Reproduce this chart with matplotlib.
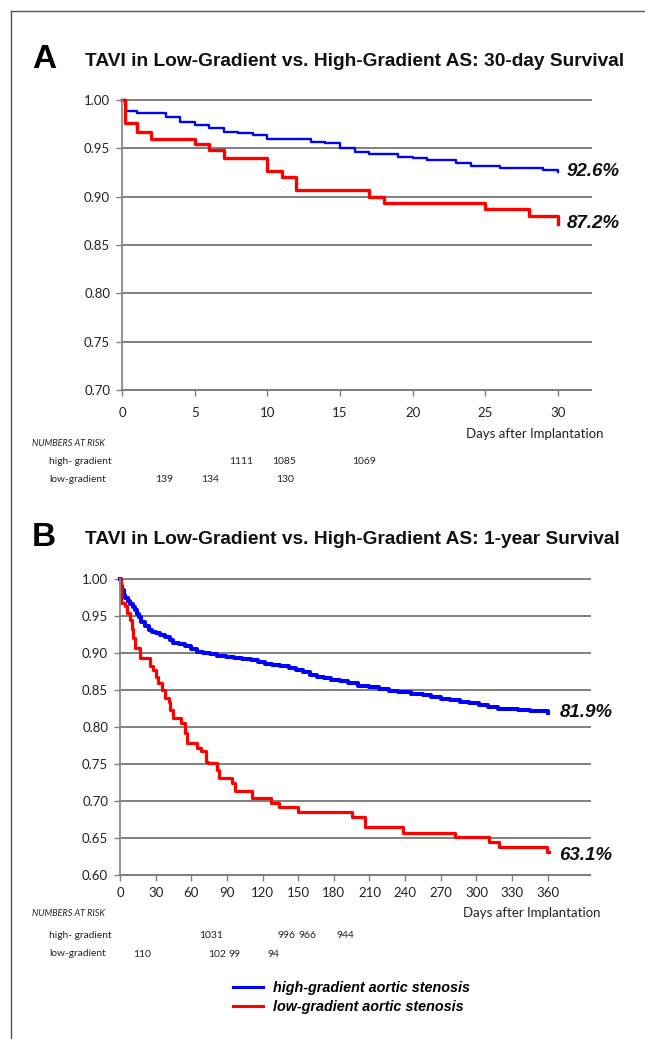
import matplotlib
matplotlib.use('Agg')
import matplotlib.pyplot as plt
from matplotlib.lines import Line2D
from matplotlib.ticker import FormatStrFormatter
import matplotlib.transforms as mtransforms

W, H = 645, 1039

# ---- panel A: 30-day survival (days, survival after step)
a_high_days = [0, 0.3, 1, 3, 4, 5, 6, 7, 8, 9, 10, 13, 14, 15, 16, 17, 19, 20, 21, 23, 24, 26, 29, 30]
a_high_surv = [1.0, 0.989, 0.987, 0.982, 0.977, 0.974, 0.971, 0.967, 0.966, 0.964, 0.960, 0.957,
               0.955, 0.950, 0.946, 0.944, 0.941, 0.940, 0.938, 0.935, 0.932, 0.930, 0.928, 0.926]
a_low_days = [0, 0.2, 1, 2, 5, 6, 7, 10, 11, 12, 17, 18, 25, 28, 30]
a_low_surv = [1.0, 0.976, 0.967, 0.960, 0.954, 0.948, 0.940, 0.927, 0.920, 0.907, 0.900, 0.893,
              0.887, 0.880, 0.872]
a_xticks = [0, 5, 10, 15, 20, 25, 30]
a_yticks = [0.70, 0.75, 0.80, 0.85, 0.90, 0.95, 1.00]
a_risk_high = [(8.2, '1111'), (11.15, '1085'), (16.65, '1069')]
a_risk_low = [(2.9, '139'), (6.05, '134'), (11.2, '130')]
a_end_labels = ['92.6%', '87.2%']

# ---- panel B: 1-year survival
b_high_days = [0, 0.5, 1.5, 3, 4.5, 6.5, 8.5, 11, 13, 14.5, 16, 18, 21, 24, 27, 30, 34, 38, 42, 45,
               50, 55, 60, 65, 70, 76, 82, 89, 96, 103, 110, 116, 122, 128, 135, 142, 148, 154, 160,
               166, 172, 178, 185, 192, 200, 210, 218, 226, 234, 245, 255, 262, 270, 278, 286, 294,
               302, 310, 318, 326, 335, 345, 353, 360]
b_high_surv = [1.000, 0.990, 0.985, 0.979, 0.974, 0.970, 0.966, 0.962, 0.958, 0.953, 0.948, 0.942,
               0.936, 0.931, 0.929, 0.927, 0.925, 0.922, 0.918, 0.914, 0.912, 0.909, 0.905, 0.902,
               0.900, 0.898, 0.896, 0.894, 0.893, 0.892, 0.890, 0.888, 0.885, 0.884, 0.882, 0.880,
               0.877, 0.874, 0.870, 0.868, 0.866, 0.864, 0.862, 0.859, 0.856, 0.854, 0.852, 0.849,
               0.847, 0.845, 0.843, 0.840, 0.838, 0.836, 0.834, 0.832, 0.830, 0.827, 0.825, 0.824,
               0.823, 0.822, 0.821, 0.819]
b_low_days = [0, 0.5, 1, 4, 6, 8.5, 10, 11, 13, 17, 25, 28, 30, 32, 35, 37.5, 41, 42, 45, 51,
              55, 56.5, 65, 68, 72, 74, 82, 83, 94, 97, 111, 127, 134, 150, 195, 206, 238, 282,
              311, 319, 359, 361]
b_low_surv = [1.0, 0.985, 0.967, 0.963, 0.954, 0.945, 0.933, 0.920, 0.907, 0.893, 0.882, 0.877,
              0.868, 0.859, 0.850, 0.839, 0.834, 0.823, 0.812, 0.805, 0.792, 0.778, 0.771, 0.767,
              0.753, 0.751, 0.742, 0.731, 0.724, 0.713, 0.704, 0.697, 0.692, 0.685, 0.678, 0.665,
              0.657, 0.651, 0.644, 0.638, 0.631, 0.631]
b_xticks = [0, 30, 60, 90, 120, 150, 180, 210, 240, 270, 300, 330, 360]
b_yticks = [0.60, 0.65, 0.70, 0.75, 0.80, 0.85, 0.90, 0.95, 1.00]
b_risk_high = [(76.6, '1031'), (140, '996'), (157.5, '966'), (190, '944')]
b_risk_low = [(18.5, '110'), (81.6, '102'), (96.6, '99'), (128.8, '94')]
b_end_labels = ['81.9%', '63.1%']

title_a = 'TAVI in Low-Gradient vs. High-Gradient AS: 30-day Survival'
title_b = 'TAVI in Low-Gradient vs. High-Gradient AS: 1-year Survival'
legend_labels = ['high-gradient aortic stenosis', 'low-gradient aortic stenosis']

ARIAL = 'Liberation Sans'
SMALL = 'Lato'
GRID = '#7f7f7f'
TXT = '#222222'


def px(x):
    return x / W


def py(y):
    return 1 - y / H


fig = plt.figure(figsize=(W / 100, H / 100), dpi=100)

# outer frame (left and top)
fig.add_artist(Line2D([px(10.5), px(10.5)], [py(10.5), 0], color='#555555', lw=1))
fig.add_artist(Line2D([px(10.5), 1], [py(10.5), py(10.5)], color='#555555', lw=1))


def style_axes(ax, xticks, yticks, xmax, xpad):
    ax.set_xlim(0, xmax)
    ax.set_ylim(yticks[0], yticks[-1])
    ax.set_xticks(xticks)
    ax.set_yticks(yticks)
    ax.yaxis.set_major_formatter(FormatStrFormatter('%.2f'))
    ax.yaxis.grid(True, color=GRID, lw=1.4)
    for gl in ax.get_ygridlines():
        gl.set_clip_on(False)
    ax.set_axisbelow(True)
    for s in ['top', 'right']:
        ax.spines[s].set_visible(False)
    ax.spines['left'].set_color('#8a8a8a')
    ax.spines['left'].set_linewidth(1.3)
    ax.spines['bottom'].set_color(GRID)
    ax.spines['bottom'].set_linewidth(1.4)
    ax.tick_params(axis='both', direction='out', length=4, width=1, color=GRID,
                   labelsize=9.5, labelcolor=TXT)
    ax.tick_params(axis='x', pad=xpad)
    ax.tick_params(axis='y', pad=4.5)
    for lab in ax.get_xticklabels() + ax.get_yticklabels():
        lab.set_family(SMALL)


def risk_table(ax, high, low, y_head, y_high, y_low, right_frac):
    tr = mtransforms.blended_transform_factory(ax.transData, ax.transAxes)
    ax.text(right_frac, y_head, 'Days after Implantation', transform=ax.transAxes,
            ha='right', va='center', fontsize=9.5, family=SMALL, color=TXT)
    for d, n in high:
        ax.text(d, y_high, n, transform=tr, ha='center', va='center', fontsize=7.5,
                family=SMALL, color=TXT, clip_on=False)
    for d, n in low:
        ax.text(d, y_low, n, transform=tr, ha='center', va='center', fontsize=7.5,
                family=SMALL, color=TXT, clip_on=False)


def end_label(ax, x, y, s):
    ax.text(x, y, s, ha='left', va='center', fontsize=13.5, weight='bold', style='italic',
            family=ARIAL, color='#111111', clip_on=False)


def row_labels(y_head, y_high, y_low):
    fig.text(px(32), py(y_head), 'NUMBERS AT RISK', ha='left', va='center', fontsize=6.5,
             style='italic', family=SMALL, color=TXT)
    fig.text(px(49), py(y_high), 'high- gradient', ha='left', va='center', fontsize=7.3,
             family=SMALL, color=TXT)
    fig.text(px(49), py(y_low), 'low-gradient', ha='left', va='center', fontsize=7.3,
             family=SMALL, color=TXT)


# ---------------- panel A
axA = fig.add_axes([px(122), py(390), px(591) - px(122), py(100) - py(390)])
style_axes(axA, a_xticks, a_yticks, 32.27, 8)
axA.step(a_high_days, a_high_surv, where='post', color='#0000ff', lw=1.7, clip_on=False)
axA.step(a_low_days, a_low_surv, where='post', color='#ff0000', lw=2.4, clip_on=False)
end_label(axA, 30.6, a_high_surv[-1], a_end_labels[0])
end_label(axA, 30.6, a_low_surv[-1], a_end_labels[1])
risk_table(axA, a_risk_high, a_risk_low, -0.152, -0.245, -0.307, 1.026)

fig.text(px(32), py(60), 'A', ha='left', va='center', fontsize=24, weight='bold', family=ARIAL)
fig.text(px(85), py(62), title_a, ha='left', va='center', fontsize=13.8, weight='bold',
         family=ARIAL, color='#111111')
row_labels(443, 461, 479)

# ---------------- panel B
axB = fig.add_axes([px(120), py(875), px(590) - px(120), py(579) - py(875)])
style_axes(axB, b_xticks, b_yticks, 395.6, 4.5)
axB.step(b_high_days, b_high_surv, where='post', color='#0000ff', lw=2.9, clip_on=False)
axB.step(b_low_days, b_low_surv, where='post', color='#ff0000', lw=2.3, clip_on=False)
end_label(axB, 370, b_high_surv[-1], b_end_labels[0])
end_label(axB, 370, 0.627, b_end_labels[1])
risk_table(axB, b_risk_high, b_risk_low, -0.128, -0.206, -0.267, 1.023)

fig.text(px(32), py(537), 'B', ha='left', va='center', fontsize=24, weight='bold', family=ARIAL)
fig.text(px(85), py(539), title_b, ha='left', va='center', fontsize=13.8, weight='bold',
         family=ARIAL, color='#111111')
row_labels(913, 936, 954)

handles = [Line2D([], [], color='#0000ff', lw=2.2), Line2D([], [], color='#ff0000', lw=2.2)]
fig.legend(handles, legend_labels, loc='center left', bbox_to_anchor=(px(233), py(997.5)),
           frameon=False, borderpad=0, borderaxespad=0, handlelength=2.1, handletextpad=0.7,
           labelspacing=0.4, prop={'family': ARIAL, 'weight': 'bold', 'style': 'italic',
                                   'size': 10.4})

fig.savefig('out.png', dpi=100)
